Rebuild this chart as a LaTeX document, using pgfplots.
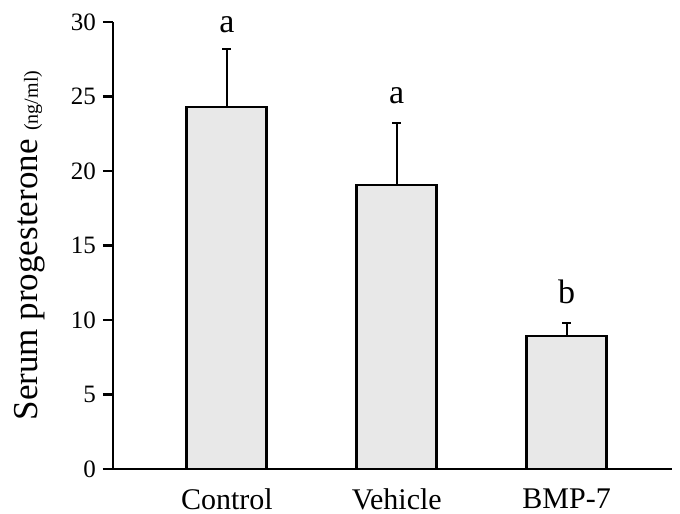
\documentclass[border=0pt]{standalone}
\usepackage{fontspec}
\setmainfont{Liberation Serif}
\usepackage{pgfplots}
\pgfplotsset{compat=1.18}
\begin{document}
\begin{tikzpicture}
\begin{axis}[
 scale only axis, width=279.5pt, height=223.5pt,
 xmin=-0.67, xmax=2.62, ymin=0, ymax=30,
 axis x line=bottom, axis y line=left,
 axis line style={line width=1.2pt, -},
 x axis line style={shorten <=-5pt},
 xtick={0,1,2}, xticklabels={Control,Vehicle,BMP-7},
 major x tick style={draw=none},
 ytick={0,5,...,30},
 y tick style={line width=1.2pt, black},
 tick align=outside, major tick length=5pt,
 tick pos=left,
 yticklabel style={font=\fontsize{12.5}{14}\selectfont},
 xticklabel style={font=\fontsize{15}{18}\selectfont, yshift=-1.5pt},
 /pgf/number format/assume math mode=true,
 ylabel={\fontsize{17.5}{20}\selectfont Serum progesterone {\fontsize{10}{12}\selectfont (ng/ml)}},
 ylabel style={at={(axis description cs:-0.12,0.5)}, anchor=south, inner sep=0pt},
 clip=false,
]
\addplot[ybar, bar width=40pt, draw=black, line width=1.4pt, fill=black!9,
  error bars/.cd, y dir=plus, y explicit,
  error bar style={line width=1pt, black},
  error mark options={rotate=90, mark size=2.25pt, line width=1pt, black}]
 coordinates {(0,24.3) +- (0,3.9) (1,19.06) +- (0,4.14) (2,8.93) +- (0,0.87)};
\node[anchor=base, font=\fontsize{17}{20}\selectfont] at (axis cs:0,29.3) {a};
\node[anchor=base, font=\fontsize{17}{20}\selectfont] at (axis cs:1,24.56) {a};
\node[anchor=base, font=\fontsize{17}{20}\selectfont] at (axis cs:2,11.14) {b};
\end{axis}
\pgfresetboundingbox
\path ([shift={(-56.5pt,-22.5pt)}]current axis.south west) rectangle ([shift={(4pt,11pt)}]current axis.north east);
\end{tikzpicture}
\end{document}
